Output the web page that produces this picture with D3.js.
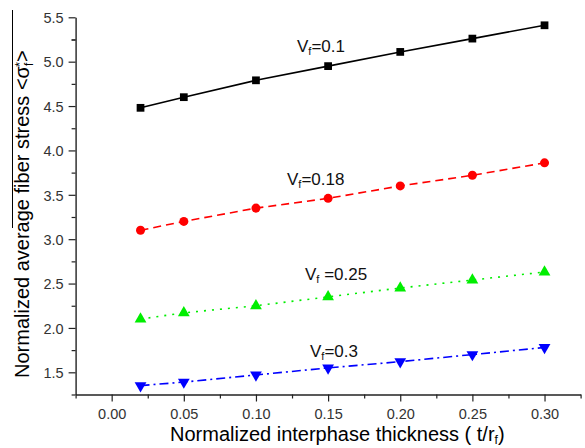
<!DOCTYPE html>
<html>
<head>
<meta charset="utf-8">
<script src="https://cdn.jsdelivr.net/npm/d3@7"></script>
<style>
  html, body { margin: 0; padding: 0; background: #fff; }
  svg { display: block; font-family: Arial, "Liberation Sans", Helvetica, sans-serif; }
</style>
</head>
<body>
<svg id="chart" width="585" height="448"></svg>
<script>
// ---- data ----
const xValues = [0.02, 0.05, 0.10, 0.15, 0.20, 0.25, 0.30];
const vf01  = [4.48, 4.60, 4.79, 4.95, 5.11, 5.26, 5.41];
const vf018 = [3.10, 3.20, 3.35, 3.46, 3.60, 3.72, 3.86];
const vf025 = [2.10, 2.17, 2.25, 2.35, 2.45, 2.54, 2.63];
const vf03  = [1.35, 1.39, 1.47, 1.55, 1.62, 1.70, 1.78];
const seriesNames = ["0.1", "0.18", "0.25", "0.3"];
const xTickLabels = ["0.00", "0.05", "0.10", "0.15", "0.20", "0.25", "0.30"];
const yTickLabels = ["1.5", "2.0", "2.5", "3.0", "3.5", "4.0", "4.5", "5.0", "5.5"];

const series = [
  { name: seriesNames[0], values: vf01,  color: "#000000", dash: null,      marker: "square",       label: { x: 297, y: 52,  sep: "=" } },
  { name: seriesNames[1], values: vf018, color: "#ff0000", dash: "8,5",     marker: "circle",       label: { x: 287, y: 185, sep: "=" } },
  { name: seriesNames[2], values: vf025, color: "#00ee00", dash: "2,6",     marker: "triangle",     label: { x: 305, y: 280, sep: " =" } },
  { name: seriesNames[3], values: vf03,  color: "#0000ff", dash: "9,4,2,4", marker: "triangleDown", label: { x: 310, y: 357, sep: "=" } }
];

const svg = d3.select("#chart");
const x = d3.scaleLinear().domain([-0.025, 0.325]).range([75.6, 580.6]);
const y = d3.scaleLinear().domain([1.25, 5.5]).range([394.5, 17.3]);

// ---- axes ----
const axisColor = "#222";
const xMajor = xTickLabels.map(Number);
const xMinor = d3.range(-0.025, 0.33, 0.05).map(v => +v.toFixed(3));
const yMajor = yTickLabels.map(Number);
const yMinor = d3.range(1.25, 5.5, 0.5).map(v => +v.toFixed(2)).concat([5.25]);

const gx = svg.append("g").attr("transform", `translate(0,${y(1.25)})`);
gx.call(d3.axisBottom(x).tickValues(xMajor).tickSize(7).tickSizeOuter(0)
  .tickFormat((d, i) => xTickLabels[i]));
gx.append("g").call(d3.axisBottom(x).tickValues(xMinor).tickSize(4).tickSizeOuter(0).tickFormat(""))
  .select(".domain").remove();

const gy = svg.append("g").attr("transform", `translate(${x(-0.025)},0)`);
gy.call(d3.axisLeft(y).tickValues(yMajor).tickSize(7).tickSizeOuter(0)
  .tickFormat((d, i) => yTickLabels[i]));
gy.append("g").call(d3.axisLeft(y).tickValues(yMinor).tickSize(4).tickSizeOuter(0).tickFormat(""))
  .select(".domain").remove();

[gx, gy].forEach(g => {
  g.selectAll(".domain").attr("stroke", axisColor).attr("stroke-width", 1.4);
  g.selectAll(".tick line").attr("stroke", axisColor).attr("stroke-width", 1.2);
  g.selectAll(".tick text").attr("fill", "#333").style("font-size", "14.5px");
});
gx.selectAll(".tick text").attr("dy", "0").attr("y", 24);
gy.selectAll(".tick text").attr("x", -12).attr("dy", "0.36em");

// ---- lines & markers ----
const line = d3.line().x((d, i) => x(xValues[i])).y(d => y(d));
const sym = {
  square: d3.symbol().type(d3.symbolSquare).size(60),
  circle: d3.symbol().type(d3.symbolCircle).size(64),
  triangle: d3.symbol().type(d3.symbolTriangle).size(60),
  triangleDown: d3.symbol().type(d3.symbolTriangle).size(60)
};

series.forEach(s => {
  svg.append("path")
    .datum(s.values)
    .attr("d", line)
    .attr("fill", "none")
    .attr("stroke", s.color)
    .attr("stroke-width", 1.6)
    .attr("stroke-dasharray", s.dash);
  svg.append("g").selectAll("path")
    .data(s.values)
    .join("path")
    .attr("d", sym[s.marker])
    .attr("transform", (d, i) => `translate(${x(xValues[i])},${y(d)})` + (s.marker === "triangleDown" ? " rotate(180)" : ""))
    .attr("fill", s.color);

  const t = svg.append("text")
    .attr("x", s.label.x).attr("y", s.label.y)
    .style("font-size", "17px").attr("fill", "#111");
  t.append("tspan").text("V");
  t.append("tspan").text("f").style("font-size", "11px").attr("dy", 3);
  t.append("tspan").text(s.label.sep + s.name).attr("dy", -3);
});

// ---- axis titles ----
const xt = svg.append("text")
  .attr("x", 170).attr("y", 441)
  .style("font-size", "20px").attr("fill", "#000");
xt.append("tspan").text("Normalized interphase thickness ( t/r");
xt.append("tspan").text("f").style("font-size", "12px").attr("dy", 3);
xt.append("tspan").text(")").attr("dy", -3);

const yt = svg.append("text")
  .attr("transform", "translate(28.5,378) rotate(-90)")
  .style("font-size", "20px").attr("fill", "#000");
yt.append("tspan").text("Normalized average fiber stress <σ");
yt.append("tspan").text("f").style("font-size", "12px").attr("dy", 4);
yt.append("tspan").text("*").style("font-size", "12px").attr("dy", -9).attr("dx", -4);
yt.append("tspan").text(">").attr("dy", 5);

// overline artifact along the y title
svg.append("line")
  .attr("x1", 12.5).attr("x2", 12.5)
  .attr("y1", 10).attr("y2", 228)
  .attr("stroke", "#000").attr("stroke-width", 1);
</script>
</body>
</html>
